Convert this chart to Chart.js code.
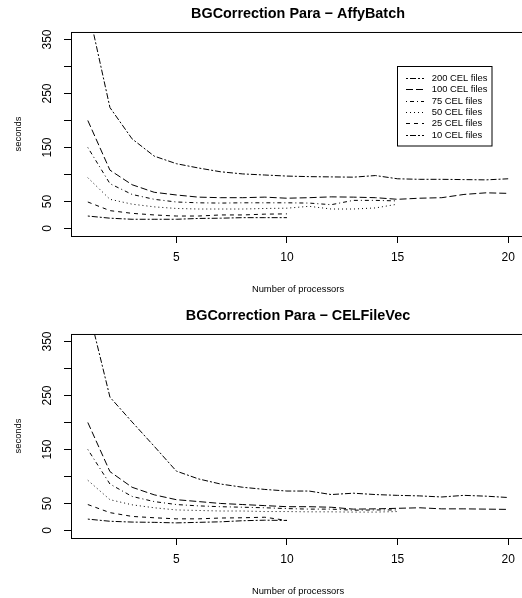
<!DOCTYPE html>
<html>
<head>
<meta charset="utf-8">
<script src="https://cdn.jsdelivr.net/npm/chart.js@4.4.1/dist/chart.umd.min.js"></script>
<style>
  html, body { margin: 0; padding: 0; background: #fff; overflow: hidden; }
  .panel { position: absolute; left: 0; width: 522px; height: 299px; overflow: hidden; }
  #top { top: 0; }
  #bottom { top: 302px; height: 296px; }
</style>
</head>
<body>
<div class="panel" id="top"><canvas id="affy" width="530" height="299"></canvas></div>
<div class="panel" id="bottom"><canvas id="celvec" width="530" height="299"></canvas></div>
<script>
// processors on the x axis
const procs = [1, 2, 3, 4, 5, 6, 7, 8, 9, 10, 11, 12, 13, 14, 15, 16, 17, 18, 19, 20];
const seriesLabels = ['200 CEL files', '100 CEL files', '75 CEL files', '50 CEL files', '25 CEL files', '10 CEL files'];

// seconds, AffyBatch panel
const affy200 = [410, 224, 166, 134, 120, 112, 105, 101, 99, 97, 96, 95.5, 95, 98, 92, 91, 91, 90.5, 90, 92];
const affy100 = [200, 108, 81, 67, 62, 58, 57, 57, 58, 56, 57, 58.5, 58, 57, 54, 56, 57, 63, 66, 65];
const affy75  = [150, 83, 63, 54, 49, 47.5, 47, 47.5, 47.5, 47.5, 47, 44, 52, 52, 51];
const affy50  = [94, 54, 45, 40, 37, 36, 36, 36, 37, 37.5, 41, 36, 36, 38, 45];
const affy25  = [49, 33, 28, 25, 23, 23, 25, 25, 26.5, 27];
const affy10  = [23, 19, 17, 17, 17, 18.5, 19, 20, 20, 20];

// seconds, CELFileVec panel
const celvec200 = [415, 247, 201, 156, 110, 95.5, 86, 80, 76, 73, 73, 66.5, 69, 66.5, 65, 64, 62, 65, 63.5, 61];
const celvec100 = [200, 109, 80, 66, 57, 53.5, 50, 48, 46, 44, 44, 43, 39.5, 40, 41, 42, 40, 40, 39.5, 39];
const celvec75  = [150, 86, 63, 53.5, 48, 45.5, 44, 43, 42, 40.5, 39.5, 39.5, 37.5, 38, 38];
const celvec50  = [93, 57, 47.5, 42, 38, 37, 36, 36, 35, 35, 34.5, 34.5, 34, 34, 35];
const celvec25  = [48, 33, 26, 23.5, 21.5, 21.5, 23, 23.5, 24.5, 18.5];
const celvec10  = [21, 17, 15.5, 15, 14, 15, 16, 18, 19, 18.5];

const xTicks = [5, 10, 15, 20];
const yTicks = [0, 50, 100, 150, 200, 250, 300, 350];
const yTickLabels = [0, 50, 150, 250, 350];

// R-ish line types: twodash, longdash, dotdash, dotted, dashed, twodash
const dashes = [[2, 2, 6, 2], [7, 3], [1, 3, 4, 3], [1, 3], [4, 4], [2, 2, 6, 2]];

const family = '"Liberation Sans", Arial, Helvetica, sans-serif';
Chart.defaults.font.family = family;
Chart.defaults.color = '#000';

// box around the plot region
const frame = {
    id: 'frame',
    afterDraw(chart) {
        const a = chart.chartArea;
        const ctx = chart.ctx;
        ctx.save();
        ctx.strokeStyle = '#000';
        ctx.lineWidth = 1;
        ctx.strokeRect(a.left + 0.5, a.top + 0.5, a.right - a.left, a.bottom - a.top);
        ctx.restore();
    }
};

// legend box in the upper right, read from the datasets
const key = {
    id: 'key',
    afterDraw(chart) {
        const ctx = chart.ctx;
        ctx.save();
        ctx.strokeStyle = '#000';
        ctx.lineWidth = 1;
        ctx.strokeRect(397.5, 66.5, 94.5, 79.5);
        ctx.font = '9.4px ' + family;
        ctx.fillStyle = '#000';
        ctx.textBaseline = 'middle';
        chart.data.datasets.forEach((ds, i) => {
            const y = Math.round(77.7 + i * 11.4) + 0.5;
            ctx.setLineDash(ds.borderDash);
            ctx.beginPath();
            ctx.moveTo(406, y);
            ctx.lineTo(424, y);
            ctx.stroke();
            ctx.setLineDash([]);
            ctx.fillText(ds.label, 431.7, y);
        });
        ctx.restore();
    }
};

function buildChart(canvas, title, series, showKey) {
    const datasets = series.map((vals, i) => ({
        label: seriesLabels[i],
        data: vals.map((v, k) => ({ x: procs[k], y: v })),
        borderColor: '#000',
        borderWidth: 1,
        borderDash: dashes[i],
        pointRadius: 0,
        tension: 0,
        fill: false
    }));

    return new Chart(canvas, {
        type: 'line',
        data: { datasets },
        options: {
            responsive: false,
            animation: false,
            devicePixelRatio: 1,
            layout: { padding: { left: 0, right: 5, top: 0, bottom: 0 } },
            plugins: {
                legend: { display: false },
                tooltip: { enabled: false },
                title: {
                    display: true,
                    fullSize: false,   // center over the plot region, like R
                    text: title,
                    color: '#000',
                    font: { size: 14.4, weight: 'bold' },
                    padding: { top: 5, bottom: 9.7 }
                }
            },
            scales: {
                x: {
                    type: 'linear',
                    min: 0.24,
                    max: 20.76,
                    afterBuildTicks: s => { s.ticks = xTicks.map(v => ({ value: v })); },
                    afterFit: s => { s.height = 63; },
                    border: { display: false },
                    grid: { drawOnChartArea: false, drawTicks: true, tickLength: 7, color: '#000' },
                    ticks: { color: '#000', font: { size: 12 }, padding: 7, maxRotation: 0, autoSkip: false },
                    title: {
                        display: true,
                        text: 'Number of processors',
                        color: '#000',
                        font: { size: 9.4 },
                        padding: { top: 0, bottom: 4 }
                    }
                },
                y: {
                    type: 'linear',
                    min: -14,
                    max: 364,
                    afterBuildTicks: s => { s.ticks = yTicks.map(v => ({ value: v })); },
                    afterFit: s => { s.width = 71; },
                    border: { display: false },
                    grid: { drawOnChartArea: false, drawTicks: true, tickLength: 7, color: '#000' },
                    ticks: {
                        color: '#000',
                        font: { size: 12 },
                        minRotation: 90,
                        maxRotation: 90,
                        crossAlign: 'center',
                        autoSkip: false,
                        padding: 6,
                        callback: v => yTickLabels.includes(v) ? String(v) : ''
                    },
                    title: {
                        display: true,
                        text: 'seconds',
                        color: '#000',
                        font: { size: 9.4 },
                        padding: { top: 13, bottom: 0 }
                    }
                }
            }
        },
        plugins: showKey ? [frame, key] : [frame]
    });
}

buildChart(document.getElementById('affy'), 'BGCorrection Para \u2212 AffyBatch',
    [affy200, affy100, affy75, affy50, affy25, affy10], true);
buildChart(document.getElementById('celvec'), 'BGCorrection Para \u2212 CELFileVec',
    [celvec200, celvec100, celvec75, celvec50, celvec25, celvec10], false);
</script>
</body>
</html>
